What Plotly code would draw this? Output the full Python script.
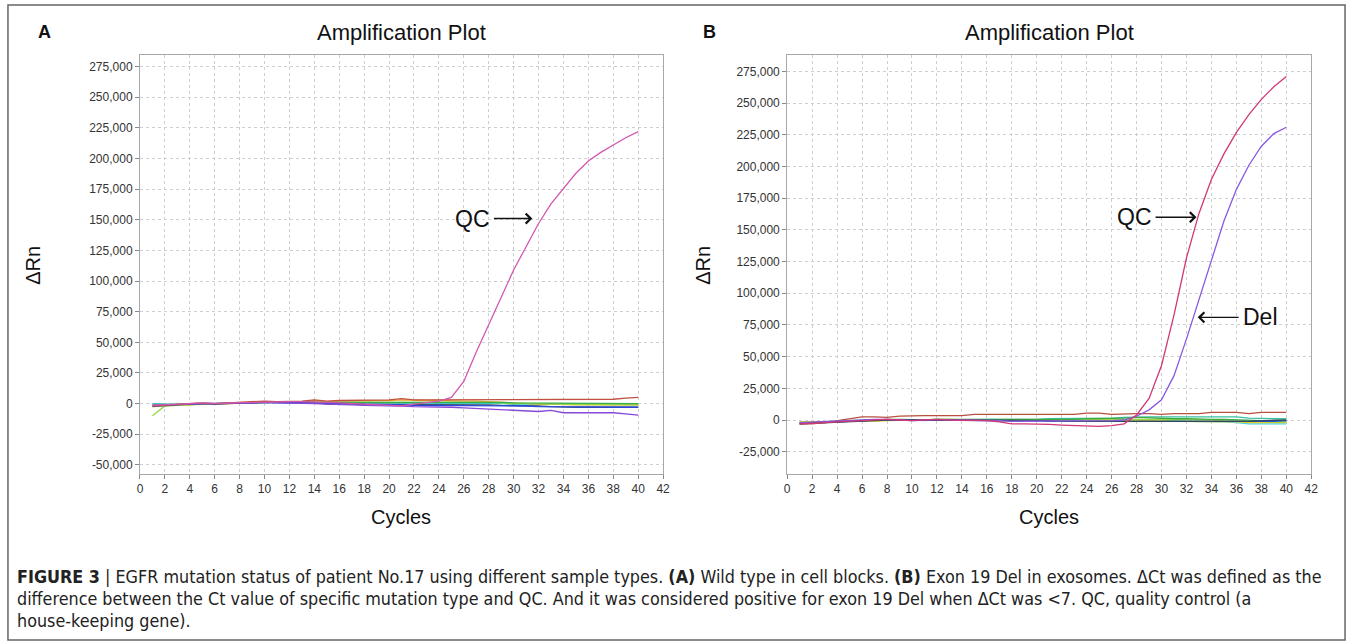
import plotly.graph_objects as go

W, H = 1357, 644

cycles = list(range(1, 41))

# ---------------- Panel A (wild type, cell blocks) ----------------
a_qc = [-1500, -1000, -500, 0, 500, 200, 500, 800, 1000, 1500,
        1500, 1500, 1500, 1500, 1000, 500, 0, -500, -1500, -2000,
        -2000, -500, 1000, 2000, 5000, 18000, 42000, 64000, 86000, 109000,
        128000, 147000, 163000, 176000, 188000, 198000, 205000, 211000, 217000, 222000]
a_brown = [-2000, -1500, -1000, -500, 500, 0, 500, 800, 1000, 2000,
           1500, 1500, 2000, 3000, 2000, 2500, 2500, 2500, 2500, 3000,
           4000, 3000, 3000, 3000, 3500, 3500, 3500, 3500, 3500, 3500,
           3500, 3500, 3500, 3500, 3500, 3500, 3500, 3500, 4500, 5000]
a_orange = [-1500, -1500, -1000, -1000, 0, -500, 0, 500, 500, 1000,
            1500, 1500, 1500, 2500, 1500, 2000, 2000, 2000, 2000, 2500,
            3000, 2500, 2500, 2500, 2000, 2000, 2000, 1500, 1000, 0,
            0, -500, -500, -1000, -1000, -1000, -1000, -1000, -1000, -1000]
a_lime = [-10000, -2000, -1500, -1000, -500, -500, 0, 500, 500, 1000,
          1000, 1000, 1000, 1500, 1000, 1000, 1000, 1000, 1000, 1000,
          1000, 1000, 1000, 1000, 1000, 1000, 1000, 1000, 500, 500,
          0, 0, -500, -500, -500, -500, -1000, -1000, -1000, -1000]
a_green = [-1500, -1000, -1000, -500, 0, 0, 0, 500, 500, 1000,
           1000, 1000, 1000, 1500, 1000, 1000, 1000, 1000, 1000, 1000,
           1500, 1000, 1000, 1000, 1000, 1000, 1000, 1000, 1000, 500,
           500, 500, 500, 0, 0, 0, 0, 0, 0, 0]
a_teal = [0, -500, -500, 0, 0, 0, 500, 500, 500, 1000,
          500, 500, 500, 1000, 500, 500, 500, 500, 500, 500,
          500, 500, 500, 500, 0, 0, 0, 0, 0, -500,
          -500, -500, -500, -500, -500, -500, -500, -500, -500, -500]
a_navy = [-2500, -1500, -1000, -500, 0, -500, 0, 0, 500, 1000,
          1000, 1000, 1000, 1000, -500, -500, -500, -500, -500, -500,
          -500, -500, -1000, -1000, -1000, -1000, -1000, -1000, -1500, -1500,
          -2000, -2000, -2500, -3000, -3000, -3000, -3000, -3000, -3000, -3000]
a_blue = [-1500, -1000, -500, 0, 0, 0, 0, 500, 500, 1000,
          500, 500, 500, 500, 0, 0, 0, -500, -500, -1000,
          -1000, -1500, -1500, -1500, -1500, -1500, -1500, -1500, -1500, -2000,
          -2000, -2500, -2500, -3000, -3000, -3000, -3000, -3000, -3000, -3000]
a_purple = [-1500, -1000, -500, 0, 0, 0, 500, 500, 500, 1000,
            500, 500, 500, 0, -500, -500, -1000, -1500, -1500, -2000,
            -2000, -2500, -2500, -3000, -3000, -3500, -4000, -4500, -4500, -5000,
            -6000, -6500, -5500, -7500, -7500, -7500, -7500, -7500, -8500, -9500]

# ---------------- Panel B (exon 19 Del, exosomes) ----------------
b_qc = [-3000, -2500, -2000, -1500, -1000, -500, 0, 500, 0, -500,
        0, 500, 0, 0, 0, -500, -1500, -3000, -3000, -3000,
        -3500, -4000, -4500, -5000, -5000, -4500, -3000, 4000, 17000, 43000,
        83000, 128000, 163000, 190000, 210000, 227000, 241000, 253000, 263000, 271000]
b_del = [-2000, -1500, -1000, -500, 0, 500, 500, 500, 0, -500,
         0, 500, 0, 0, 0, 0, -500, -1000, -1000, -1000,
         -1000, -1000, -1000, -1000, -1000, -500, 0, 3000, 8000, 16000,
         35000, 64000, 95000, 127000, 157000, 182000, 201000, 216000, 226000, 231000]
b_brown = [-3000, -3000, -2000, -500, 500, 2500, 2500, 2000, 3000, 3500,
           3500, 3500, 3500, 3500, 4500, 4500, 4500, 4500, 4500, 4500,
           4500, 4500, 4500, 5500, 5500, 4500, 5000, 5000, 5000, 4500,
           5000, 5000, 5000, 6000, 6000, 6000, 5000, 6000, 6000, 6000]
b_teal = [-1500, -1500, -1000, -1000, -500, 0, 0, 0, 0, 0,
          0, 0, 0, 500, 500, 500, 500, 500, 500, 500,
          1000, 1000, 1000, 1000, 1000, 1500, 2000, 2500, 2500, 2500,
          2500, 2500, 2500, 2500, 2500, 2500, 1500, 1000, 1000, 1000]
b_cyan = [-2000, -1500, -1000, -1000, -500, -500, 0, 0, 0, -500,
          -500, 0, 0, 0, 0, 0, 0, 0, 0, 0,
          0, 0, 0, 0, 0, 0, 0, 0, 0, -500,
          -500, -1000, -1000, -1000, -1500, -2000, -3000, -3000, -3000, -3000]
b_green = [-3000, -2500, -2000, -1500, -1000, 0, 0, 500, 500, 0,
           0, 500, 500, 500, 500, 0, 0, 0, 0, 500,
           500, 500, 500, 1000, 1000, 1500, 1500, 2000, 1500, 1500,
           1000, 1000, 500, 500, 500, 0, 0, -500, -500, -500]
b_lime = [-2500, -2000, -1500, -1500, -1000, -500, 0, 0, 0, -500,
          0, 500, 500, 500, 0, 0, -500, -500, -500, -500,
          -500, -500, 0, 0, 500, 500, 500, 500, 500, 0,
          0, 0, 0, 0, -500, -500, -1000, -1000, -1500, -1500]
b_yellow = [-1500, -1500, -1000, -1000, -500, -1000, -1000, -500, 0, 0,
            0, 500, 500, 0, 0, 0, 0, 0, 0, 0,
            0, 0, 0, 0, 0, 0, 0, -500, -500, -500,
            -1000, -1000, -1000, -1000, -1500, -1500, -2000, -2000, -2000, -2000]
b_blue = [-2500, -2000, -1500, -1000, -500, 0, 0, 0, 0, 0,
          0, 0, 0, 0, 0, -500, -500, -500, -500, -500,
          -1000, -1000, -1500, -1500, -1500, -1500, -1500, -1500, -1500, -1500,
          -1500, -1500, -1500, -1500, -1500, -1500, -1000, -1000, -1000, -500]
b_navy = [-3000, -2500, -2000, -1500, -1000, -500, 0, 0, 0, 0,
          0, 0, 0, 0, 0, 0, -500, -500, -500, -500,
          -500, -1000, -1000, -1000, -1000, -1000, -1000, -1000, -1500, -1500,
          -1500, -1500, -1500, -1500, -1500, -1000, -1000, -500, -500, 0]

x_tick_vals = list(range(0, 43, 2))
a_y_tick_vals = [-50000, -25000, 0, 25000, 50000, 75000, 100000, 125000,
                 150000, 175000, 200000, 225000, 250000, 275000]
a_y_tick_text = ["-50,000", "-25,000", "0", "25,000", "50,000", "75,000", "100,000", "125,000",
                 "150,000", "175,000", "200,000", "225,000", "250,000", "275,000"]
b_y_tick_vals = a_y_tick_vals[1:]
b_y_tick_text = a_y_tick_text[1:]

A_series = [
    (a_teal, "#3cc8c0"), (a_orange, "#e8a828"), (a_lime, "#98d840"),
    (a_green, "#38b048"), (a_navy, "#44506a"), (a_blue, "#2a48e0"),
    (a_purple, "#8848d8"), (a_brown, "#c05040"), (a_qc, "#d058b0"),
]
B_series = [
    (b_cyan, "#48d0e8"), (b_teal, "#38c0a0"), (b_yellow, "#e0d030"),
    (b_lime, "#a0d840"), (b_green, "#40a840"), (b_blue, "#2050d0"),
    (b_navy, "#304860"), (b_brown, "#b85040"), (b_del, "#8a58e0"),
    (b_qc, "#d03878"),
]

fig = go.Figure()
for ys, col in A_series:
    fig.add_trace(go.Scatter(x=cycles, y=ys, mode="lines", xaxis="x", yaxis="y",
                             line=dict(color=col, width=1.3), showlegend=False,
                             hoverinfo="skip"))
for ys, col in B_series:
    fig.add_trace(go.Scatter(x=cycles, y=ys, mode="lines", xaxis="x2", yaxis="y2",
                             line=dict(color=col, width=1.3), showlegend=False,
                             hoverinfo="skip"))


def px(x):
    return x / W


def py(y):
    return 1 - y / H


FONT = "Liberation Sans, Arial, sans-serif"
axis_common = dict(showgrid=True, gridcolor="#cfcfcf", griddash="dot", gridwidth=1,
                   showline=True, mirror=True, linecolor="#a8a8a8", linewidth=1,
                   ticks="outside", ticklen=4, tickcolor="#888888",
                   tickfont=dict(family=FONT, size=12, color="#333333"),
                   zeroline=False, fixedrange=True)

fig.update_layout(
    width=W, height=H, autosize=False,
    margin=dict(l=0, r=0, t=0, b=0),
    paper_bgcolor="white", plot_bgcolor="white",
    xaxis=dict(domain=[px(138), px(665)], range=[0, 42], anchor="y",
               tickmode="array", tickvals=x_tick_vals, **axis_common),
    yaxis=dict(domain=[py(474), py(55)], range=[-57500, 284500], anchor="x",
               tickmode="array", tickvals=a_y_tick_vals, ticktext=a_y_tick_text,
               **axis_common),
    xaxis2=dict(domain=[px(790), px(1318)], range=[0, 42], anchor="y2",
                tickmode="array", tickvals=x_tick_vals, **axis_common),
    yaxis2=dict(domain=[py(474), py(55)], range=[-42600, 288000], anchor="x2",
                tickmode="array", tickvals=b_y_tick_vals, ticktext=b_y_tick_text,
                **axis_common),
)

ann = []


def text(x, y, s, size, bold=False, angle=0, family=FONT, xanchor="center", color="#111111"):
    ann.append(dict(x=px(x), y=py(y), xref="paper", yref="paper", showarrow=False,
                    text=("<b>%s</b>" % s) if bold else s, textangle=angle,
                    xanchor=xanchor, yanchor="middle",
                    font=dict(family=family, size=size, color=color)))


# panel letters, titles, axis titles
text(42, 32, "A", 18, bold=True)
text(712, 32, "B", 18, bold=True)
text(401, 33, "Amplification Plot", 22)
text(1054, 33, "Amplification Plot", 22)
text(30, 265, "ΔRn", 20, angle=-90)
text(705, 265, "ΔRn", 20, angle=-90)
text(401, 517, "Cycles", 20)
text(1054, 517, "Cycles", 20)


def arrow(xref, yref, x0, x1, y):
    ann.append(dict(x=x1, y=y, ax=x0, ay=y, xref=xref, yref=yref, axref=xref, ayref=yref,
                    text="", showarrow=True, arrowhead=4, arrowsize=1.4, arrowwidth=1.4,
                    arrowcolor="#111111"))


ann.append(dict(x=28.3, y=151000, xref="x", yref="y", text="QC", showarrow=False,
                xanchor="right", yanchor="middle", font=dict(family=FONT, size=23, color="#111")))
arrow("x", "y", 28.3, 31.5, 151000)
ann.append(dict(x=29.4, y=160000, xref="x2", yref="y2", text="QC", showarrow=False,
                xanchor="right", yanchor="middle", font=dict(family=FONT, size=23, color="#111")))
arrow("x2", "y2", 29.4, 32.8, 160000)
ann.append(dict(x=36.4, y=81000, xref="x2", yref="y2", text="Del", showarrow=False,
                xanchor="left", yanchor="middle", font=dict(family=FONT, size=23, color="#111")))
arrow("x2", "y2", 36.3, 32.9, 81000)

# caption
CAP = "Liberation Sans Narrow, Arial Narrow, DejaVu Sans Condensed, sans-serif"
cap_lines = [
    "<b>FIGURE 3</b> | EGFR mutation status of patient No.17 using different sample types. "
    "<b>(A)</b> Wild type in cell blocks. <b>(B)</b> Exon 19 Del in exosomes. ΔCt was defined as the",
    "difference between the Ct value of specific mutation type and QC. And it was considered "
    "positive for exon 19 Del when ΔCt was &lt;7. QC, quality control (a",
    "house-keeping gene).",
]
for i, line in enumerate(cap_lines):
    text(12, 576 + 22 * i, line, 17.8, family=CAP, xanchor="left", color="#222222")

fig.update_layout(annotations=ann)

# outer frame
fig.add_shape(type="rect", xref="paper", yref="paper", x0=px(5), x1=px(1352),
              y0=py(640), y1=py(5), line=dict(color="#666666", width=1.5))

fig.write_html("out.html")
